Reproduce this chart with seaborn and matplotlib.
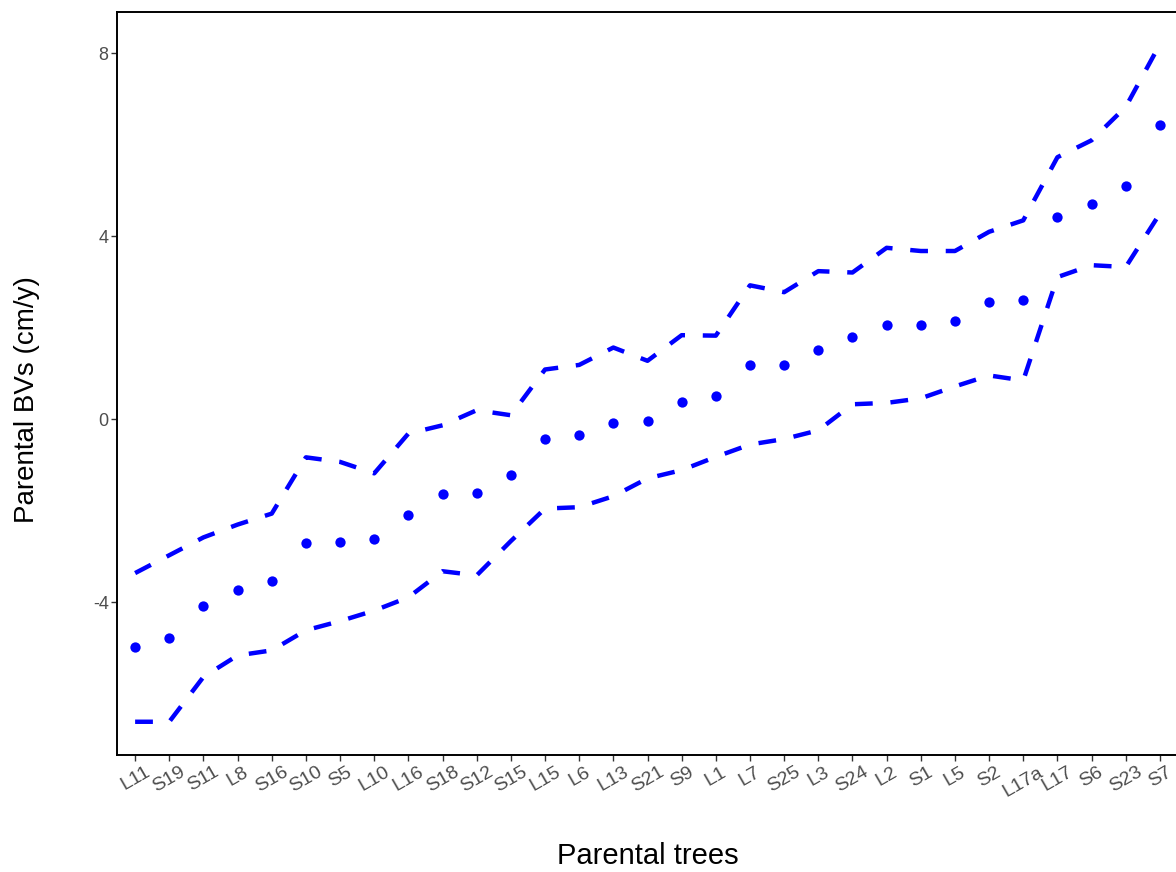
import numpy as np
import matplotlib
matplotlib.use("Agg")
import matplotlib.pyplot as plt
import seaborn as sns

# parental trees, ordered by breeding value
trees = ['L11', 'S19', 'S11', 'L8', 'S16', 'S10', 'S5', 'L10', 'L16', 'S18',
         'S12', 'S15', 'L15', 'L6', 'L13', 'S21', 'S9', 'L1', 'L7', 'S25',
         'L3', 'S24', 'L2', 'S1', 'L5', 'S2', 'L17a', 'L17', 'S6', 'S23', 'S7']

# estimated breeding values (cm/y)
bv = [-4.98, -4.79, -4.09, -3.74, -3.54, -2.71, -2.67, -2.62, -2.10, -1.64,
      -1.62, -1.22, -0.44, -0.35, -0.07, -0.04, 0.37, 0.50, 1.18, 1.18,
      1.51, 1.79, 2.06, 2.06, 2.16, 2.56, 2.60, 4.42, 4.70, 5.11, 6.43]

# upper confidence limit
upper = [-3.36, -2.97, -2.58, -2.30, -2.06, -0.83, -0.93, -1.18, -0.31, -0.13,
         0.20, 0.09, 1.09, 1.19, 1.57, 1.28, 1.84, 1.83, 2.93, 2.78,
         3.24, 3.21, 3.75, 3.68, 3.68, 4.10, 4.35, 5.73, 6.10, 6.83, 8.20]

# lower confidence limit
lower = [-6.61, -6.61, -5.63, -5.16, -5.05, -4.61, -4.41, -4.18, -3.89, -3.32,
         -3.41, -2.66, -1.95, -1.92, -1.68, -1.29, -1.11, -0.82, -0.55, -0.43,
         -0.24, 0.33, 0.36, 0.46, 0.72, 0.96, 0.85, 3.11, 3.37, 3.33, 4.50]

pos = np.arange(len(trees))

sns.set_theme(style="white")
plt.rcParams['font.family'] = ['Liberation Sans', 'DejaVu Sans']

fig = plt.figure(figsize=(11.76, 8.72), dpi=100)
# panel runs slightly past the right edge, as in the original (cropped) figure
ax = fig.add_axes([0.0995, 0.134, 0.9022, 0.852])

blue = '#0000FF'
sns.lineplot(x=pos, y=upper, ax=ax, color=blue, linewidth=3.2,
             dashes=False, linestyle=(0, (4, 4)))
sns.lineplot(x=pos, y=lower, ax=ax, color=blue, linewidth=3.2,
             dashes=False, linestyle=(0, (4, 4)))
sns.scatterplot(x=pos, y=bv, ax=ax, color=blue, s=55, edgecolor=blue,
                linewidth=0, zorder=3)

ax.set_xlim(-0.53, len(trees) - 0.47)
ax.set_ylim(-7.34, 8.9)
ax.set_xticks(pos)
ax.set_xticklabels(trees, rotation=30, ha='center', fontsize=14, color='#4d4d4d')
ax.set_yticks([-4, 0, 4, 8])
ax.set_yticklabels(['-4', '0', '4', '8'], fontsize=13, color='#4d4d4d')
ax.tick_params(axis='both', length=4, width=1, color='#333333', pad=2,
               bottom=True, left=True)

for s in ax.spines.values():
    s.set_color('black')
    s.set_linewidth(1.4)

ax.set_xlabel('Parental trees', fontsize=21, color='black')
ax.set_ylabel('Parental BVs (cm/y)', fontsize=20, color='black')
ax.xaxis.set_label_coords(0.5, -0.117)
ax.yaxis.set_label_coords(-0.073, 0.478)

fig.savefig('out.png', dpi=100)
